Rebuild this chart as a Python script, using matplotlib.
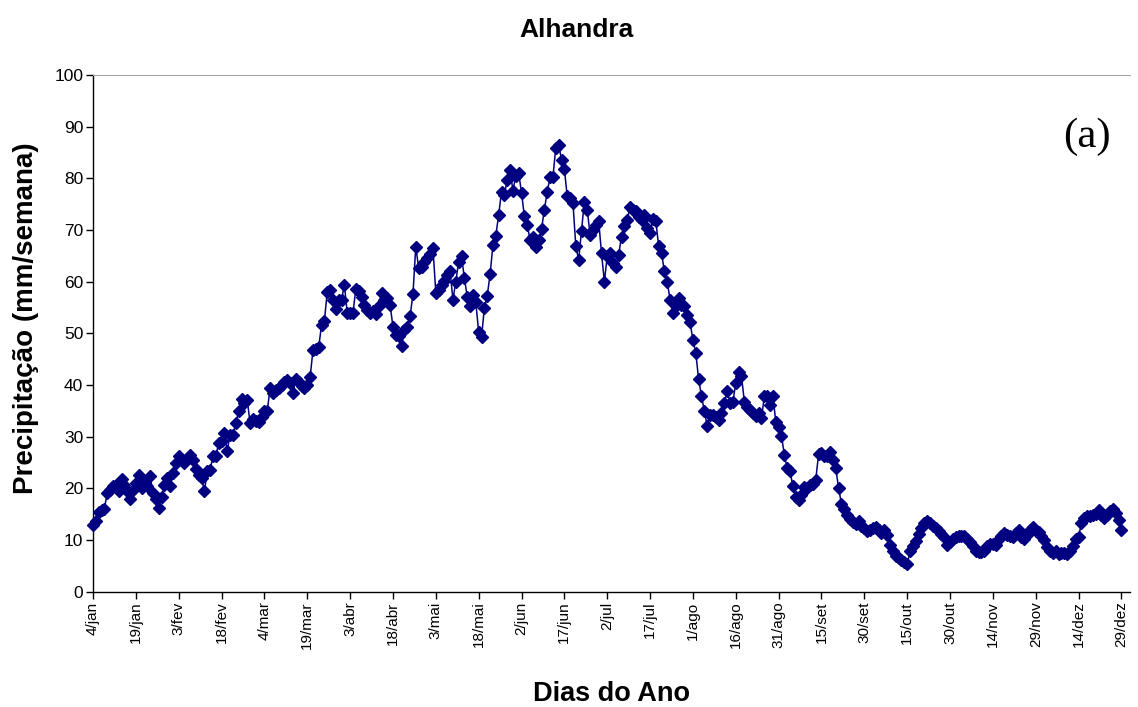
import matplotlib
matplotlib.use("Agg")
import matplotlib.pyplot as plt
import numpy as np

title = "Alhandra"
x_label = "Dias do Ano"
y_label = "Precipitação (mm/semana)"
panel_label = "(a)"

tick_labels = ["4/jan", "19/jan", "3/fev", "18/fev", "4/mar", "19/mar", "3/abr",
               "18/abr", "3/mai", "18/mai", "2/jun", "17/jun", "2/jul", "17/jul",
               "1/ago", "16/ago", "31/ago", "15/set", "30/set", "15/out", "30/out",
               "14/nov", "29/nov", "14/dez", "29/dez"]

# daily values, 4/jan .. 29/dez
precip = [
    13.0, 13.6, 15.5, 15.9, 16.1, 19.1, 19.7, 20.4, 20.7, 19.4,
    21.8, 20.7, 19.5, 17.9, 19.7, 21.0, 22.6, 20.1, 21.0, 20.4,
    22.4, 19.1, 17.9, 16.2, 18.4, 20.7, 22.0, 20.4, 23.0, 24.9,
    26.3, 25.5, 24.9, 25.7, 26.5, 25.5, 23.7, 22.6, 22.0, 19.4,
    23.3, 23.5, 26.3, 26.2, 28.8, 29.1, 30.7, 27.3, 30.4, 30.4,
    32.7, 34.9, 37.3, 36.5, 37.1, 32.6, 33.4, 33.0, 32.9, 33.9,
    34.9, 34.9, 39.5, 38.4, 39.1, 39.5, 40.0, 40.5, 41.0, 40.4,
    38.4, 41.1, 40.5, 39.8, 39.4, 40.0, 41.5, 46.7, 47.0, 47.3,
    51.6, 52.4, 58.0, 58.4, 56.5, 54.7, 56.5, 56.5, 59.4, 53.9,
    53.9, 54.0, 58.5, 58.1, 57.1, 55.5, 54.5, 54.0, 54.3, 53.8,
    55.2, 57.9, 56.5, 56.8, 55.5, 51.3, 49.7, 49.4, 47.5, 50.7,
    51.3, 53.3, 57.6, 66.8, 62.6, 62.9, 63.9, 64.5, 65.3, 66.5,
    57.9, 58.4, 59.4, 60.2, 61.3, 62.0, 56.5, 60.0, 63.9, 64.9,
    60.7, 57.1, 55.2, 57.4, 56.0, 50.3, 49.3, 54.9, 57.3, 61.4,
    67.1, 68.9, 72.9, 77.4, 76.8, 79.7, 81.6, 77.6, 80.5, 81.1,
    77.2, 72.7, 71.0, 68.1, 68.7, 66.8, 68.0, 70.2, 73.9, 77.4,
    80.2, 80.3, 85.9, 86.5, 83.6, 81.8, 76.5, 76.2, 75.3, 66.9,
    64.2, 69.9, 75.5, 73.9, 69.1, 70.0, 71.0, 71.8, 65.5, 60.0,
    64.9, 65.5, 63.6, 62.9, 65.2, 68.7, 70.7, 72.0, 74.5, 73.9,
    73.6, 72.5, 72.0, 72.9, 70.4, 69.4, 72.1, 71.8, 66.9, 65.6,
    62.0, 60.0, 56.5, 54.0, 55.2, 56.8, 55.5, 55.2, 53.6, 52.1,
    48.7, 46.2, 41.1, 37.9, 34.9, 32.1, 34.2, 34.2, 33.9, 33.3,
    34.6, 36.5, 38.9, 36.5, 36.8, 40.4, 42.6, 41.7, 36.8, 35.8,
    35.2, 34.6, 34.0, 34.6, 33.6, 37.8, 37.8, 36.2, 37.9, 32.9,
    31.8, 30.2, 26.5, 23.9, 23.3, 20.4, 18.4, 17.8, 18.8, 20.3,
    20.1, 20.7, 20.9, 21.7, 26.7, 26.9, 26.3, 26.3, 27.1, 25.5,
    23.9, 20.0, 17.0, 16.0, 14.8, 14.0, 13.5, 13.2, 13.6, 12.8,
    12.3, 11.7, 12.0, 12.3, 12.6, 12.0, 11.4, 12.0, 11.0, 9.0,
    7.8, 7.0, 6.6, 6.2, 5.8, 5.4, 7.8, 8.9, 9.8, 11.2,
    12.3, 13.3, 13.6, 13.3, 12.8, 12.3, 11.8, 11.2, 10.5, 9.1,
    9.7, 10.2, 10.5, 10.7, 10.7, 10.7, 10.2, 9.7, 8.8, 7.9,
    7.6, 7.6, 7.8, 8.8, 9.2, 9.3, 9.0, 10.2, 10.8, 11.4,
    11.0, 10.8, 10.6, 11.4, 11.9, 10.6, 10.3, 11.0, 12.0, 12.6,
    11.7, 11.5, 10.7, 10.1, 8.6, 7.9, 7.5, 7.8, 7.4, 7.5,
    7.5, 7.4, 7.8, 8.8, 10.2, 10.6, 13.4, 14.2, 14.6, 14.6,
    14.9, 15.1, 15.9, 14.9, 14.2, 14.9, 15.6, 16.0, 15.3, 13.8,
    12.0,
]

tick_step = 15
navy = "#000080"
font = ["Liberation Sans", "DejaVu Sans"]

plt.rcParams["font.family"] = font

fig = plt.figure(figsize=(11.38, 7.07), dpi=100)
ax = fig.add_axes([0.0817, 0.163, 0.9113, 0.731])

days = np.arange(len(precip))
ax.plot(days, precip, color=navy, linewidth=1.1, marker="D", markersize=5.8,
        markerfacecolor=navy, markeredgecolor=navy, clip_on=False, zorder=3)

ax.set_xlim(0, 363)
ax.set_ylim(0, 100)
ax.set_yticks(np.arange(0, 101, 10))
ax.set_xticks(np.arange(0, tick_step * len(tick_labels), tick_step))
ax.set_xticklabels(tick_labels, rotation=90)

ax.spines["right"].set_visible(False)
ax.spines["top"].set_color("#a0a0a0")
ax.spines["top"].set_linewidth(0.7)
for s in ["left", "bottom"]:
    ax.spines[s].set_linewidth(1.0)
    ax.spines[s].set_color("black")

ax.tick_params(axis="both", direction="out", length=5, width=1.0,
               colors="black")
ax.tick_params(axis="x", labelsize=11, pad=2)
ax.tick_params(axis="y", labelsize=12.5, pad=2)

fig.text(0.507, 0.948, title, fontsize=19, fontweight="bold",
         ha="center", va="baseline")
ax.set_xlabel(x_label, fontsize=19.5, fontweight="bold", labelpad=23)
ax.set_ylabel(y_label, fontsize=20, fontweight="bold")
ax.yaxis.set_label_coords(-0.052, 0.53)

ax.text(0.958, 0.880, panel_label, transform=ax.transAxes, fontsize=31,
        family=["Liberation Serif", "DejaVu Serif"], ha="center", va="center")

fig.savefig("out.png", dpi=100)
